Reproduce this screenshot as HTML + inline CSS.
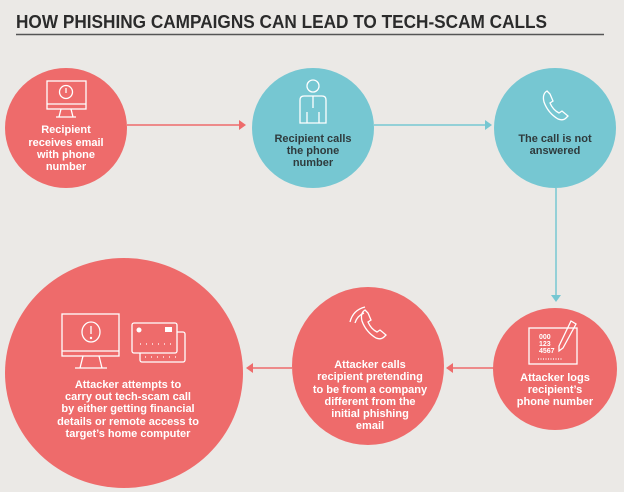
<!DOCTYPE html>
<html><head><meta charset="utf-8"><style>
html,body{margin:0;padding:0;background:#ebe9e6;}
svg{display:block;}
text{font-family:"Liberation Sans",sans-serif;font-weight:bold;}
</style></head><body>
<svg width="624" height="492" viewBox="0 0 624 492" xmlns="http://www.w3.org/2000/svg">
<rect width="624" height="492" fill="#ebe9e6"/>
<text x="16" y="28" font-size="18" fill="#2b2b2b" textLength="531" lengthAdjust="spacingAndGlyphs">HOW PHISHING CAMPAIGNS CAN LEAD TO TECH-SCAM CALLS</text>
<line x1="16" y1="34.5" x2="604" y2="34.5" stroke="#555" stroke-width="1.5"/>

<g stroke-width="1.5" fill="none">
<line x1="127" y1="125" x2="240" y2="125" stroke="#ee6b6b"/>
<line x1="374" y1="125" x2="486" y2="125" stroke="#76c7d2"/>
<line x1="556" y1="188" x2="556" y2="296" stroke="#76c7d2"/>
<line x1="495" y1="368" x2="452" y2="368" stroke="#ee6b6b"/>
<line x1="292" y1="368" x2="252" y2="368" stroke="#ee6b6b"/>
</g>
<polygon points="246,125 239,120 239,130" fill="#ee6b6b"/>
<polygon points="492,125 485,120 485,130" fill="#76c7d2"/>
<polygon points="556,302 551,295 561,295" fill="#76c7d2"/>
<polygon points="446,368 453,363 453,373" fill="#ee6b6b"/>
<polygon points="246,368 253,363 253,373" fill="#ee6b6b"/>

<ellipse cx="66" cy="128" rx="61" ry="60" fill="#ee6b6b"/>
<ellipse cx="313" cy="128" rx="61" ry="60" fill="#76c7d2"/>
<ellipse cx="555" cy="128" rx="61" ry="60" fill="#76c7d2"/>
<ellipse cx="555" cy="369" rx="62" ry="61" fill="#ee6b6b"/>
<ellipse cx="368" cy="366" rx="76" ry="79" fill="#ee6b6b"/>
<ellipse cx="124" cy="373" rx="119" ry="115" fill="#ee6b6b"/>

<g stroke="#fff" stroke-width="1.3" fill="none">
<rect x="47" y="81" width="39" height="28"/>
<line x1="47" y1="104" x2="86" y2="104"/>
<circle cx="66" cy="92" r="6.5"/>
<line x1="66" y1="88" x2="66" y2="93"/>
<path d="M61 109 L59 117 M71 109 L73 117 M56 117 H76"/>
<circle cx="313" cy="86" r="6"/>
<path d="M300 123 V100 Q300 96 304 96 H322 Q326 96 326 100 V123 Z M313 96 V108 M307 112 V123 M319 112 V123"/>
<path d="M547 91 q-5 3 -3 11 q4 11 14 17 q5 2 8 -1 l2 -2 -6 -5 -3 2 q-6 -3 -9 -10 l3 -2 -3 -7 z"/>
<rect x="529" y="328" width="48" height="36"/>
<path d="M571 321 l5 3 -13 24 -4 3 0 -5 z"/>
<line x1="538" y1="359" x2="562" y2="359" stroke-dasharray="1 1.5"/>
<path d="M365 310 q-5 3 -3 11 q4 11 14 17 q5 2 8 -1 l2 -2 -6 -5 -3 2 q-6 -3 -9 -10 l3 -2 -3 -7 z"/>
<path d="M350 322 q3 -12 15 -15 M355 323 q2 -7 9 -10"/>
<rect x="62" y="314" width="57" height="42"/>
<line x1="62" y1="351" x2="119" y2="351"/>
<ellipse cx="91" cy="332" rx="9" ry="10"/>
<line x1="91" y1="326" x2="91" y2="334"/>
<path d="M83 356 L80 368 M99 356 L102 368 M75 368 H107"/>
<rect x="140" y="332" width="45" height="30" rx="2"/>
<rect x="132" y="323" width="45" height="30" rx="2" fill="#ee6b6b"/>
<line x1="145" y1="357" x2="180" y2="357" stroke-dasharray="1 5"/>
<line x1="140" y1="344" x2="172" y2="344" stroke-dasharray="1 5"/>
</g>
<circle cx="91" cy="338" r="1.2" fill="#fff"/>
<circle cx="139" cy="330" r="2.5" fill="#fff"/>
<rect x="165" y="327" width="7" height="5" fill="#fff"/>
<g font-size="7" fill="#fff">
<text x="539" y="339">000</text>
<text x="539" y="346">123</text>
<text x="539" y="353">4567</text>
</g>

<g font-size="11" fill="#fff" text-anchor="middle">
<text x="66" y="133">Recipient</text>
<text x="66" y="146">receives email</text>
<text x="66" y="158">with phone</text>
<text x="66" y="170">number</text>
</g>
<g font-size="11" fill="#2f3b3d" text-anchor="middle">
<text x="313" y="142">Recipient calls</text>
<text x="313" y="154">the phone</text>
<text x="313" y="166">number</text>
<text x="555" y="142">The call is not</text>
<text x="555" y="154">answered</text>
</g>
<g font-size="11" fill="#fff" text-anchor="middle">
<text x="555" y="381">Attacker logs</text>
<text x="555" y="393">recipient’s</text>
<text x="555" y="405">phone number</text>
<text x="370" y="368">Attacker calls</text>
<text x="370" y="380">recipient pretending</text>
<text x="370" y="393">to be from a company</text>
<text x="370" y="405">different from the</text>
<text x="370" y="417">initial phishing</text>
<text x="370" y="429">email</text>
<text x="128" y="388">Attacker attempts to</text>
<text x="128" y="400">carry out tech-scam call</text>
<text x="128" y="412">by either getting financial</text>
<text x="128" y="425">details or remote access to</text>
<text x="128" y="437">target’s home computer</text>
</g>
</svg>
</body></html>
